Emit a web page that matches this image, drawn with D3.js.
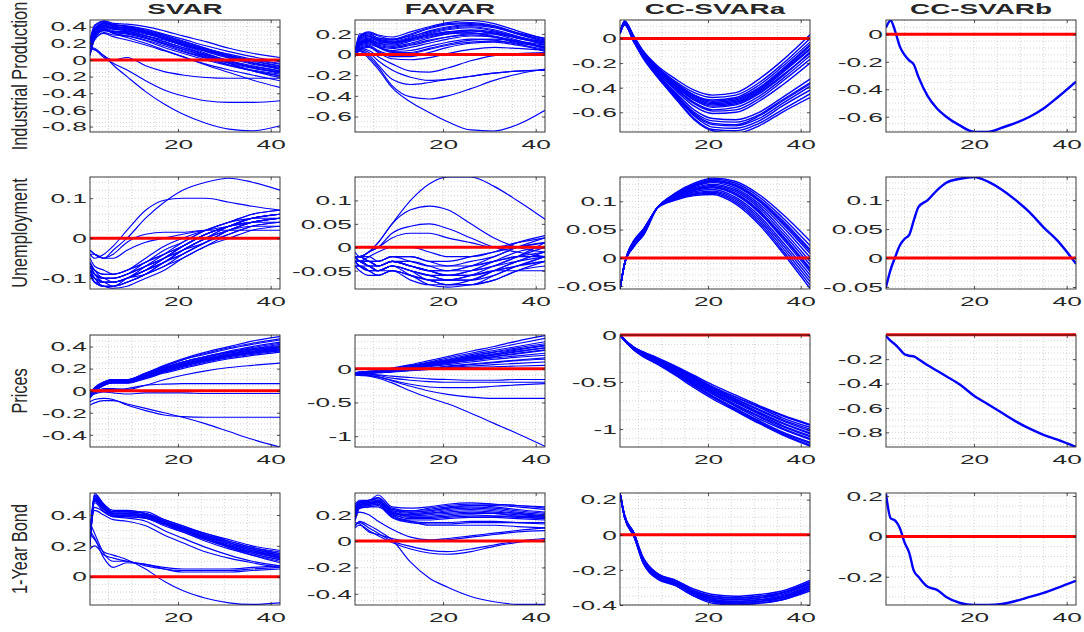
<!DOCTYPE html>
<html>
<head>
<meta charset="utf-8">
<script src="https://cdn.jsdelivr.net/npm/d3@7"></script>
<style>
  body { margin: 0; background: #fff; }
  svg text { font-family: "Liberation Sans", Arial, Helvetica, sans-serif; fill: #262626; }
</style>
</head>
<body>
<svg id="chart" width="1084" height="632"></svg>
<script>
// ---- labels ----
const models = ["SVAR", "FAVAR", "CC-SVARa", "CC-SVARb"];
const variables = ["Industrial Production", "Unemployment", "Prices", "1-Year Bond"];

// ---- horizons at which responses are recorded ----
const horizons = [1, 2, 4, 6, 9, 13, 17, 21, 26, 31, 36, 42];
const horizonsFine = [1, 2, 3, 4, 5, 6, 7, 8, 10, 12, 14, 17, 20, 23, 26, 29, 32, 35, 38, 42];
const xTicks = [20, 40];

// ---- y ranges, tick labels and minor grid steps (row = variable, col = model) ----
const yDomains = [
  [[-0.865, 0.48], [-0.75, 0.335], [-0.76, 0.15], [-0.711, 0.104]],
  [[-0.127, 0.153], [-0.089, 0.15], [-0.055, 0.143], [-0.0535, 0.14]],
  [[-0.51, 0.505], [-1.16, 0.5], [-1.19, 0], [-0.92, -0.002]],
  [[-0.184, 0.543], [-0.485, 0.365], [-0.4, 0.238], [-0.34, 0.215]]
];
const yTicks = [
  [[-0.8, -0.6, -0.4, -0.2, 0, 0.2, 0.4], [-0.6, -0.4, -0.2, 0, 0.2], [-0.6, -0.4, -0.2, 0], [-0.6, -0.4, -0.2, 0]],
  [[-0.1, 0, 0.1], [-0.05, 0, 0.05, 0.1], [-0.05, 0, 0.05, 0.1], [-0.05, 0, 0.05, 0.1]],
  [[-0.4, -0.2, 0, 0.2, 0.4], [-1, -0.5, 0], [-1, -0.5, 0], [-0.8, -0.6, -0.4, -0.2]],
  [[0, 0.2, 0.4], [-0.4, -0.2, 0, 0.2], [-0.4, -0.2, 0, 0.2], [-0.2, 0, 0.2]]
];
const yMinorSteps = [
  [0.05, 0.05, 0.05, 0.05],
  [0.02, 0.01, 0.01, 0.01],
  [0.05, 0.1, 0.1, 0.05],
  [0.05, 0.05, 0.05, 0.05]
];

// ================= Industrial Production =================
const ipSVAR = [
  [0.10,0.30,0.40,0.37,0.36,0.32,0.25,0.18,0.10,0.02,-0.05,-0.11],
  [0.15,0.34,0.43,0.40,0.39,0.35,0.29,0.22,0.14,0.06,-0.01,-0.08],
  [0.05,0.26,0.36,0.33,0.32,0.27,0.20,0.13,0.05,-0.03,-0.09,-0.15],
  [0.20,0.38,0.45,0.42,0.41,0.37,0.31,0.25,0.17,0.10,0.04,-0.02],
  [0.08,0.28,0.38,0.34,0.34,0.29,0.22,0.15,0.07,-0.01,-0.07,-0.13],
  [0.12,0.31,0.41,0.38,0.37,0.33,0.26,0.19,0.11,0.03,-0.04,-0.10],
  [0.18,0.36,0.44,0.40,0.38,0.34,0.28,0.21,0.12,0.04,-0.03,-0.09],
  [0.06,0.24,0.33,0.30,0.29,0.24,0.17,0.10,0.02,-0.06,-0.12,-0.17],
  [0.14,0.32,0.39,0.35,0.33,0.27,0.20,0.13,0.04,-0.04,-0.10,-0.14],
  [0.10,0.33,0.44,0.42,0.40,0.36,0.30,0.23,0.14,0.05,-0.03,-0.11],
  [0.22,0.40,0.47,0.44,0.43,0.40,0.35,0.29,0.22,0.14,0.08,0.03],
  [0.09,0.27,0.36,0.33,0.31,0.26,0.19,0.11,0.03,-0.06,-0.13,-0.19],
  [0.16,0.35,0.41,0.37,0.35,0.29,0.22,0.15,0.06,-0.02,-0.08,-0.13],
  [0.12,0.28,0.35,0.34,0.33,0.29,0.24,0.18,0.11,0.05,0.00,-0.05],
  [0.07,0.29,0.40,0.39,0.38,0.33,0.26,0.18,0.08,-0.01,-0.09,-0.16],
  [0.19,0.36,0.42,0.38,0.36,0.31,0.26,0.20,0.13,0.07,0.01,-0.04],
  [0.11,0.28,0.36,0.32,0.29,0.23,0.15,0.08,0.00,-0.07,-0.13,-0.19],
  [0.13,0.33,0.45,0.43,0.40,0.34,0.26,0.17,0.06,-0.04,-0.13,-0.21],
  [0.15,0.30,0.37,0.32,0.27,0.20,0.12,0.04,-0.06,-0.15,-0.24,-0.33],
  [0.10,0.25,0.32,0.28,0.24,0.18,0.11,0.04,-0.05,-0.12,-0.18,-0.25],
  [0.24,0.42,0.46,0.41,0.38,0.33,0.27,0.20,0.12,0.05,-0.01,-0.07],
  [0.15,0.14,0.05,0.00,0.03,-0.07,-0.14,-0.18,-0.21,-0.22,-0.22,-0.22],
  [0.13,0.12,0.03,-0.04,-0.12,-0.25,-0.36,-0.43,-0.49,-0.51,-0.51,-0.49],
  [0.15,0.13,0.05,-0.06,-0.20,-0.38,-0.53,-0.65,-0.76,-0.83,-0.85,-0.79]
];
const ipFAVAR = [
  [0.00,0.12,0.15,0.12,0.11,0.15,0.20,0.24,0.26,0.23,0.17,0.09],
  [0.02,0.16,0.20,0.16,0.14,0.19,0.25,0.29,0.30,0.27,0.20,0.12],
  [-0.02,0.08,0.10,0.07,0.04,0.07,0.11,0.15,0.18,0.17,0.13,0.07],
  [0.00,0.10,0.13,0.10,0.08,0.11,0.16,0.20,0.23,0.21,0.16,0.10],
  [0.03,0.18,0.22,0.19,0.17,0.22,0.27,0.31,0.33,0.30,0.23,0.15],
  [0.01,0.12,0.14,0.08,0.03,0.04,0.08,0.12,0.15,0.14,0.10,0.05],
  [-0.01,0.06,0.08,0.03,-0.02,-0.02,0.02,0.07,0.11,0.12,0.09,0.04],
  [0.02,0.14,0.17,0.14,0.12,0.16,0.21,0.25,0.27,0.24,0.18,0.11],
  [0.00,0.09,0.12,0.09,0.07,0.10,0.14,0.17,0.19,0.17,0.12,0.06],
  [0.01,0.15,0.19,0.16,0.15,0.20,0.26,0.30,0.31,0.28,0.21,0.14],
  [-0.01,0.07,0.09,0.04,0.00,0.01,0.05,0.09,0.12,0.13,0.11,0.08],
  [0.02,0.11,0.14,0.11,0.09,0.13,0.17,0.20,0.21,0.18,0.13,0.07],
  [0.00,0.09,0.11,0.08,0.06,0.09,0.13,0.17,0.20,0.20,0.16,0.11],
  [0.03,0.17,0.21,0.18,0.15,0.18,0.22,0.26,0.28,0.26,0.20,0.13],
  [0.01,0.11,0.13,0.07,0.02,0.02,0.06,0.10,0.14,0.15,0.13,0.09],
  [0.00,0.13,0.16,0.13,0.11,0.15,0.19,0.22,0.23,0.20,0.14,0.06],
  [-0.02,0.05,0.07,0.02,-0.04,-0.05,-0.03,0.01,0.05,0.07,0.06,0.04],
  [0.02,0.15,0.18,0.15,0.13,0.17,0.23,0.27,0.29,0.27,0.21,0.16],
  [0.01,0.11,0.13,0.11,0.10,0.14,0.18,0.21,0.21,0.17,0.11,0.03],
  [0.02,0.20,0.18,0.14,0.12,0.15,0.19,0.22,0.24,0.22,0.17,0.12],
  [0.00,0.06,0.04,-0.02,-0.09,-0.16,-0.17,-0.13,-0.06,-0.01,0.01,0.02],
  [0.00,0.05,0.02,-0.06,-0.15,-0.22,-0.25,-0.24,-0.21,-0.18,-0.16,-0.15],
  [0.00,0.04,0.00,-0.10,-0.24,-0.29,-0.27,-0.24,-0.21,-0.18,-0.16,-0.15],
  [0.00,0.04,-0.02,-0.12,-0.30,-0.41,-0.43,-0.40,-0.33,-0.25,-0.19,-0.14],
  [0.00,0.03,-0.04,-0.14,-0.32,-0.46,-0.56,-0.65,-0.73,-0.74,-0.68,-0.54]
];
const ipCCa = [
  [0.05,0.14,0.02,-0.10,-0.22,-0.33,-0.42,-0.46,-0.44,-0.33,-0.18,0.03],
  [0.05,0.13,0.01,-0.11,-0.23,-0.35,-0.44,-0.48,-0.46,-0.36,-0.21,0.00],
  [0.04,0.13,0.00,-0.11,-0.24,-0.36,-0.46,-0.50,-0.48,-0.38,-0.23,-0.03],
  [0.05,0.14,0.01,-0.12,-0.25,-0.37,-0.47,-0.52,-0.50,-0.41,-0.26,-0.06],
  [0.04,0.13,0.00,-0.12,-0.25,-0.38,-0.49,-0.54,-0.52,-0.43,-0.28,-0.09],
  [0.05,0.13,0.00,-0.13,-0.26,-0.39,-0.50,-0.56,-0.54,-0.45,-0.31,-0.11],
  [0.04,0.12,-0.01,-0.13,-0.26,-0.40,-0.52,-0.58,-0.56,-0.47,-0.33,-0.14],
  [0.05,0.13,0.00,-0.13,-0.27,-0.41,-0.53,-0.59,-0.58,-0.49,-0.35,-0.17],
  [0.04,0.12,-0.01,-0.14,-0.27,-0.42,-0.55,-0.61,-0.60,-0.51,-0.38,-0.20],
  [0.05,0.14,0.01,-0.11,-0.24,-0.36,-0.46,-0.51,-0.49,-0.40,-0.25,-0.05],
  [0.04,0.12,0.00,-0.12,-0.24,-0.37,-0.48,-0.53,-0.51,-0.42,-0.27,-0.08],
  [0.05,0.13,0.00,-0.12,-0.25,-0.38,-0.50,-0.55,-0.53,-0.44,-0.30,-0.12],
  [0.04,0.12,-0.01,-0.14,-0.28,-0.44,-0.58,-0.65,-0.66,-0.60,-0.48,-0.33],
  [0.04,0.12,-0.01,-0.14,-0.29,-0.45,-0.60,-0.67,-0.68,-0.62,-0.50,-0.36],
  [0.05,0.12,-0.02,-0.15,-0.29,-0.46,-0.62,-0.70,-0.71,-0.65,-0.53,-0.39],
  [0.04,0.11,-0.02,-0.15,-0.30,-0.47,-0.63,-0.72,-0.73,-0.67,-0.55,-0.42],
  [0.04,0.11,-0.03,-0.16,-0.31,-0.48,-0.65,-0.74,-0.75,-0.69,-0.58,-0.45],
  [0.05,0.11,-0.03,-0.16,-0.31,-0.49,-0.66,-0.75,-0.77,-0.71,-0.60,-0.48],
  [0.04,0.12,-0.02,-0.15,-0.29,-0.46,-0.61,-0.69,-0.70,-0.63,-0.51,-0.37]
];
const ipCCb = [
  [0.05,0.10,0.02,-0.09,-0.15,-0.19,-0.22,-0.31,-0.45,-0.54,-0.60,-0.665,-0.71,-0.71,-0.68,-0.645,-0.60,-0.54,-0.46,-0.345]
];

// ================= Unemployment =================
const unSVAR = [
  [-0.07,-0.09,-0.10,-0.10,-0.09,-0.07,-0.05,-0.03,-0.01,0.02,0.04,0.05],
  [-0.08,-0.10,-0.11,-0.11,-0.10,-0.08,-0.05,-0.02,0.01,0.03,0.05,0.06],
  [-0.06,-0.08,-0.09,-0.09,-0.08,-0.06,-0.03,-0.01,0.02,0.04,0.05,0.06],
  [-0.09,-0.11,-0.12,-0.12,-0.11,-0.09,-0.07,-0.04,-0.01,0.02,0.04,0.05],
  [-0.07,-0.09,-0.11,-0.11,-0.10,-0.08,-0.06,-0.04,-0.01,0.01,0.03,0.04],
  [-0.08,-0.10,-0.12,-0.12,-0.11,-0.09,-0.06,-0.03,0.00,0.03,0.05,0.06],
  [-0.06,-0.08,-0.10,-0.10,-0.09,-0.07,-0.05,-0.02,0.01,0.03,0.04,0.05],
  [-0.09,-0.11,-0.12,-0.125,-0.12,-0.10,-0.08,-0.05,-0.02,0.01,0.03,0.04],
  [-0.07,-0.08,-0.09,-0.09,-0.08,-0.05,-0.02,0.00,0.02,0.04,0.06,0.07],
  [-0.08,-0.09,-0.11,-0.11,-0.10,-0.07,-0.04,-0.01,0.02,0.04,0.06,0.07],
  [-0.07,-0.09,-0.10,-0.11,-0.10,-0.08,-0.06,-0.03,0.00,0.02,0.03,0.03],
  [-0.08,-0.10,-0.11,-0.12,-0.11,-0.09,-0.06,-0.04,-0.01,0.02,0.04,0.05],
  [-0.06,-0.09,-0.10,-0.10,-0.09,-0.06,-0.04,-0.02,0.01,0.03,0.05,0.06],
  [-0.09,-0.10,-0.11,-0.11,-0.10,-0.08,-0.05,-0.02,0.01,0.03,0.05,0.05],
  [-0.07,-0.09,-0.10,-0.10,-0.09,-0.07,-0.05,-0.03,0.00,0.02,0.04,0.05],
  [-0.08,-0.11,-0.12,-0.12,-0.10,-0.08,-0.06,-0.03,0.00,0.03,0.05,0.06],
  [-0.05,-0.07,-0.08,-0.09,-0.08,-0.06,-0.04,-0.02,0.01,0.03,0.04,0.04],
  [-0.09,-0.11,-0.11,-0.11,-0.10,-0.09,-0.07,-0.05,-0.02,0.00,0.02,0.03],
  [-0.03,-0.04,-0.05,-0.03,0.00,0.05,0.09,0.12,0.14,0.15,0.14,0.12],
  [-0.04,-0.05,-0.04,-0.02,0.02,0.07,0.095,0.10,0.10,0.09,0.08,0.07],
  [-0.04,-0.04,-0.05,-0.04,-0.01,0.01,0.015,0.015,0.02,0.02,0.02,0.02],
  [-0.03,-0.04,-0.05,-0.05,-0.03,-0.01,0.00,0.01,0.02,0.03,0.04,0.05]
];
const unFAVAR = [
  [-0.02,-0.03,-0.03,-0.04,-0.03,-0.04,-0.05,-0.06,-0.05,-0.04,-0.02,0.00],
  [-0.03,-0.03,-0.04,-0.05,-0.04,-0.05,-0.06,-0.07,-0.07,-0.05,-0.03,-0.01],
  [-0.02,-0.02,-0.03,-0.03,-0.02,-0.03,-0.04,-0.04,-0.03,-0.02,0.00,0.01],
  [-0.04,-0.04,-0.05,-0.06,-0.05,-0.06,-0.07,-0.08,-0.08,-0.06,-0.04,-0.02],
  [-0.03,-0.03,-0.04,-0.04,-0.03,-0.04,-0.05,-0.05,-0.04,-0.03,-0.02,-0.01],
  [-0.02,-0.03,-0.04,-0.05,-0.04,-0.05,-0.07,-0.07,-0.06,-0.04,-0.02,0.01],
  [-0.03,-0.04,-0.05,-0.05,-0.04,-0.06,-0.07,-0.08,-0.08,-0.07,-0.05,-0.03],
  [-0.02,-0.02,-0.03,-0.04,-0.03,-0.03,-0.04,-0.05,-0.05,-0.04,-0.03,-0.02],
  [-0.04,-0.05,-0.06,-0.06,-0.05,-0.06,-0.08,-0.085,-0.08,-0.07,-0.05,-0.04],
  [-0.03,-0.03,-0.04,-0.05,-0.04,-0.05,-0.06,-0.06,-0.05,-0.03,-0.01,0.00],
  [-0.02,-0.03,-0.03,-0.04,-0.03,-0.04,-0.05,-0.06,-0.06,-0.05,-0.04,-0.03],
  [-0.03,-0.04,-0.04,-0.05,-0.04,-0.05,-0.06,-0.07,-0.06,-0.05,-0.04,-0.02],
  [-0.02,-0.02,-0.03,-0.03,-0.02,-0.02,-0.03,-0.04,-0.04,-0.03,-0.02,-0.02],
  [-0.04,-0.04,-0.05,-0.06,-0.05,-0.07,-0.08,-0.08,-0.07,-0.05,-0.03,-0.01],
  [-0.03,-0.03,-0.04,-0.04,-0.03,-0.04,-0.05,-0.06,-0.06,-0.05,-0.05,-0.05],
  [-0.02,-0.03,-0.03,-0.04,-0.03,-0.04,-0.05,-0.05,-0.04,-0.02,0.00,0.02],
  [-0.03,-0.04,-0.05,-0.05,-0.05,-0.06,-0.07,-0.07,-0.07,-0.06,-0.04,-0.03],
  [-0.01,-0.02,-0.02,-0.03,-0.02,-0.02,-0.03,-0.03,-0.02,-0.01,0.00,0.01],
  [-0.02,-0.02,-0.01,0.01,0.05,0.10,0.135,0.15,0.15,0.13,0.10,0.06],
  [-0.02,-0.02,-0.01,0.01,0.05,0.08,0.088,0.08,0.05,0.02,0.00,-0.01],
  [-0.02,-0.02,-0.01,0.00,0.03,0.045,0.05,0.04,0.02,0.00,-0.01,-0.02],
  [-0.02,-0.02,-0.01,0.00,0.02,0.03,0.03,0.02,0.01,0.00,0.01,0.02],
  [-0.03,-0.03,-0.02,-0.01,0.00,0.00,-0.01,-0.02,-0.02,-0.01,0.01,0.025]
];
const unCCa = [
  [-0.055,-0.01,0.030,0.050,0.088,0.115,0.132,0.141,0.135,0.112,0.078,0.030],
  [-0.055,-0.01,0.030,0.050,0.088,0.114,0.130,0.139,0.132,0.108,0.072,0.022],
  [-0.055,-0.01,0.025,0.045,0.088,0.113,0.129,0.137,0.129,0.104,0.067,0.015],
  [-0.055,-0.01,0.028,0.048,0.088,0.112,0.127,0.135,0.126,0.100,0.061,0.008],
  [-0.055,-0.01,0.030,0.040,0.088,0.111,0.126,0.133,0.123,0.096,0.056,0.001],
  [-0.055,-0.01,0.022,0.042,0.088,0.110,0.124,0.130,0.120,0.092,0.050,-0.006],
  [-0.055,-0.01,0.025,0.046,0.088,0.109,0.122,0.128,0.117,0.088,0.045,-0.012],
  [-0.055,-0.01,0.030,0.050,0.088,0.108,0.121,0.126,0.114,0.084,0.040,-0.018],
  [-0.055,-0.01,0.020,0.040,0.088,0.107,0.119,0.124,0.111,0.080,0.035,-0.024],
  [-0.055,-0.01,0.024,0.044,0.088,0.106,0.117,0.121,0.107,0.075,0.029,-0.030],
  [-0.055,-0.01,0.028,0.048,0.088,0.105,0.115,0.118,0.104,0.071,0.024,-0.036],
  [-0.055,-0.01,0.020,0.040,0.088,0.104,0.113,0.116,0.101,0.067,0.019,-0.042],
  [-0.055,-0.01,0.026,0.046,0.088,0.103,0.112,0.114,0.098,0.063,0.014,-0.048],
  [-0.055,-0.01,0.022,0.042,0.088,0.102,0.110,0.112,0.095,0.059,0.010,-0.054],
  [-0.055,-0.01,0.030,0.050,0.088,0.112,0.128,0.136,0.128,0.102,0.064,0.012],
  [-0.055,-0.01,0.024,0.044,0.088,0.108,0.120,0.125,0.113,0.082,0.038,-0.020]
];
const unCCb = [
  [-0.05,-0.02,0.002,0.022,0.033,0.040,0.065,0.088,0.100,0.117,0.130,0.137,0.140,0.132,0.118,0.100,0.079,0.053,0.030,-0.010]
];

// ================= Prices =================
const prSVAR = [
  [-0.05,0.00,0.06,0.09,0.08,0.13,0.19,0.24,0.29,0.33,0.36,0.39],
  [-0.04,0.01,0.07,0.10,0.09,0.15,0.21,0.26,0.31,0.35,0.38,0.41],
  [-0.06,-0.01,0.05,0.08,0.08,0.12,0.17,0.22,0.27,0.31,0.34,0.37],
  [-0.03,0.02,0.08,0.10,0.10,0.16,0.22,0.28,0.33,0.38,0.42,0.46],
  [-0.05,0.00,0.06,0.08,0.08,0.13,0.18,0.23,0.28,0.32,0.35,0.38],
  [-0.07,-0.01,0.05,0.07,0.07,0.12,0.18,0.23,0.28,0.32,0.35,0.38],
  [-0.04,0.01,0.07,0.09,0.09,0.14,0.20,0.25,0.30,0.35,0.38,0.42],
  [-0.02,0.03,0.08,0.10,0.10,0.16,0.23,0.29,0.35,0.40,0.45,0.49],
  [-0.06,0.00,0.05,0.07,0.07,0.11,0.16,0.20,0.25,0.29,0.32,0.35],
  [-0.05,0.00,0.06,0.09,0.09,0.14,0.19,0.24,0.29,0.33,0.37,0.40],
  [-0.03,0.02,0.07,0.09,0.09,0.14,0.20,0.26,0.31,0.36,0.40,0.44],
  [-0.06,-0.01,0.05,0.08,0.08,0.12,0.17,0.21,0.26,0.30,0.33,0.36],
  [-0.04,0.01,0.06,0.09,0.09,0.14,0.19,0.24,0.28,0.32,0.35,0.37],
  [-0.05,0.00,0.07,0.10,0.10,0.15,0.21,0.26,0.31,0.35,0.39,0.43],
  [-0.03,0.01,0.06,0.08,0.08,0.13,0.18,0.23,0.27,0.31,0.34,0.36],
  [-0.05,0.00,0.06,0.09,0.09,0.15,0.22,0.28,0.34,0.39,0.43,0.47],
  [-0.04,0.00,0.05,0.07,0.07,0.12,0.17,0.22,0.27,0.31,0.35,0.39],
  [-0.06,-0.01,0.06,0.08,0.08,0.13,0.19,0.24,0.29,0.34,0.37,0.40],
  [-0.05,-0.02,0.02,0.02,0.01,0.05,0.10,0.14,0.18,0.21,0.23,0.25],
  [-0.04,-0.02,0.01,0.01,0.02,0.05,0.06,0.065,0.065,0.065,0.065,0.065],
  [-0.05,-0.03,-0.01,-0.02,-0.03,-0.02,-0.02,-0.02,-0.025,-0.025,-0.025,-0.025],
  [-0.10,-0.08,-0.07,-0.08,-0.13,-0.18,-0.22,-0.235,-0.24,-0.24,-0.24,-0.24],
  [-0.13,-0.11,-0.09,-0.09,-0.12,-0.16,-0.20,-0.24,-0.30,-0.37,-0.44,-0.51]
];
const prFAVAR = [
  [-0.08,-0.07,-0.06,-0.05,-0.03,0.00,0.04,0.08,0.13,0.18,0.22,0.27],
  [-0.07,-0.06,-0.05,-0.04,-0.01,0.03,0.08,0.13,0.19,0.25,0.31,0.37],
  [-0.09,-0.08,-0.07,-0.06,-0.04,-0.02,0.01,0.04,0.07,0.10,0.13,0.16],
  [-0.06,-0.05,-0.04,-0.03,0.00,0.05,0.10,0.16,0.23,0.30,0.37,0.45],
  [-0.08,-0.07,-0.06,-0.05,-0.03,0.01,0.05,0.10,0.15,0.20,0.25,0.31],
  [-0.07,-0.07,-0.06,-0.05,-0.04,-0.02,0.00,0.02,0.04,0.06,0.08,0.10],
  [-0.08,-0.06,-0.05,-0.04,-0.02,0.02,0.06,0.11,0.17,0.22,0.28,0.34],
  [-0.06,-0.05,-0.04,-0.02,0.01,0.06,0.12,0.18,0.26,0.33,0.41,0.49],
  [-0.09,-0.08,-0.07,-0.06,-0.05,-0.03,-0.01,0.01,0.02,0.03,0.04,0.05],
  [-0.07,-0.06,-0.05,-0.04,-0.02,0.01,0.05,0.09,0.14,0.18,0.23,0.28],
  [-0.08,-0.07,-0.06,-0.04,-0.02,0.02,0.07,0.12,0.18,0.24,0.29,0.35],
  [-0.07,-0.06,-0.05,-0.04,-0.03,0.00,0.03,0.06,0.10,0.14,0.17,0.20],
  [-0.08,-0.07,-0.06,-0.05,-0.02,0.02,0.06,0.10,0.16,0.21,0.26,0.31],
  [-0.06,-0.05,-0.04,-0.03,0.00,0.04,0.09,0.14,0.21,0.27,0.33,0.40],
  [-0.09,-0.08,-0.07,-0.05,-0.04,-0.02,0.00,0.03,0.06,0.09,0.12,0.14],
  [-0.07,-0.06,-0.05,-0.04,-0.02,0.01,0.04,0.08,0.12,0.16,0.19,0.23],
  [-0.08,-0.08,-0.08,-0.09,-0.11,-0.13,-0.15,-0.16,-0.17,-0.17,-0.16,-0.16],
  [-0.08,-0.08,-0.09,-0.10,-0.14,-0.17,-0.19,-0.20,-0.20,-0.20,-0.20,-0.20],
  [-0.08,-0.09,-0.10,-0.12,-0.17,-0.23,-0.27,-0.28,-0.28,-0.26,-0.24,-0.22],
  [-0.08,-0.09,-0.10,-0.12,-0.18,-0.26,-0.33,-0.38,-0.42,-0.44,-0.44,-0.44],
  [-0.09,-0.10,-0.11,-0.14,-0.21,-0.33,-0.43,-0.52,-0.66,-0.81,-0.96,-1.15]
];
const prCCa = [
  [0,-0.05,-0.13,-0.18,-0.24,-0.33,-0.43,-0.53,-0.64,-0.75,-0.85,-0.95],
  [0,-0.05,-0.13,-0.19,-0.25,-0.34,-0.44,-0.55,-0.66,-0.77,-0.88,-0.98],
  [0,-0.05,-0.14,-0.20,-0.26,-0.36,-0.46,-0.57,-0.69,-0.80,-0.91,-1.02],
  [0,-0.05,-0.14,-0.20,-0.27,-0.37,-0.48,-0.59,-0.71,-0.83,-0.94,-1.05],
  [0,-0.06,-0.15,-0.21,-0.28,-0.39,-0.50,-0.61,-0.74,-0.86,-0.97,-1.08],
  [0,-0.06,-0.15,-0.22,-0.29,-0.40,-0.52,-0.63,-0.76,-0.89,-1.00,-1.11],
  [0,-0.06,-0.16,-0.23,-0.30,-0.42,-0.54,-0.66,-0.79,-0.92,-1.04,-1.15],
  [0,-0.06,-0.16,-0.23,-0.31,-0.43,-0.56,-0.68,-0.81,-0.94,-1.06,-1.18],
  [0,-0.05,-0.13,-0.18,-0.25,-0.35,-0.45,-0.56,-0.68,-0.79,-0.90,-1.00],
  [0,-0.06,-0.15,-0.21,-0.29,-0.40,-0.51,-0.62,-0.75,-0.87,-0.99,-1.10],
  [0,-0.06,-0.16,-0.22,-0.30,-0.41,-0.53,-0.65,-0.78,-0.91,-1.03,-1.14],
  [0,-0.05,-0.14,-0.19,-0.26,-0.36,-0.47,-0.58,-0.70,-0.82,-0.93,-1.04],
  [0,-0.06,-0.15,-0.22,-0.30,-0.41,-0.54,-0.66,-0.80,-0.93,-1.05,-1.17],
  [0,-0.05,-0.13,-0.19,-0.26,-0.35,-0.45,-0.55,-0.66,-0.76,-0.86,-0.96],
  [0,-0.06,-0.15,-0.21,-0.28,-0.38,-0.49,-0.60,-0.72,-0.84,-0.96,-1.07]
];
const prCCb = [
  [-0.01,-0.05,-0.08,-0.12,-0.16,-0.172,-0.178,-0.20,-0.25,-0.295,-0.34,-0.41,-0.50,-0.57,-0.64,-0.71,-0.77,-0.82,-0.86,-0.92]
];

// ================= 1-Year Bond =================
const bdSVAR = [
  [0.25,0.52,0.45,0.41,0.41,0.40,0.35,0.31,0.26,0.21,0.17,0.13],
  [0.22,0.50,0.44,0.40,0.40,0.39,0.34,0.30,0.25,0.20,0.16,0.12],
  [0.28,0.54,0.47,0.42,0.42,0.41,0.37,0.33,0.28,0.23,0.19,0.15],
  [0.20,0.48,0.42,0.39,0.39,0.38,0.33,0.29,0.23,0.18,0.14,0.10],
  [0.26,0.53,0.46,0.42,0.42,0.41,0.36,0.32,0.27,0.22,0.18,0.14],
  [0.23,0.51,0.45,0.41,0.41,0.40,0.35,0.30,0.25,0.20,0.15,0.11],
  [0.27,0.50,0.44,0.40,0.40,0.40,0.36,0.32,0.28,0.24,0.20,0.17],
  [0.21,0.49,0.43,0.39,0.40,0.38,0.34,0.30,0.24,0.19,0.14,0.09],
  [0.24,0.52,0.46,0.42,0.42,0.42,0.37,0.33,0.27,0.22,0.17,0.13],
  [0.26,0.51,0.45,0.41,0.41,0.39,0.35,0.31,0.26,0.22,0.18,0.15],
  [0.22,0.53,0.47,0.43,0.43,0.41,0.36,0.31,0.25,0.19,0.15,0.11],
  [0.25,0.50,0.44,0.40,0.39,0.38,0.34,0.29,0.24,0.20,0.16,0.12],
  [0.28,0.52,0.46,0.41,0.41,0.40,0.36,0.32,0.27,0.23,0.19,0.16],
  [0.20,0.49,0.44,0.40,0.40,0.39,0.35,0.30,0.25,0.20,0.16,0.12],
  [0.24,0.50,0.45,0.41,0.41,0.40,0.35,0.31,0.26,0.21,0.17,0.14],
  [0.30,0.45,0.42,0.39,0.38,0.36,0.30,0.25,0.19,0.14,0.10,0.07],
  [0.28,0.43,0.40,0.37,0.36,0.33,0.27,0.22,0.16,0.12,0.09,0.06],
  [0.35,0.28,0.15,0.10,0.10,0.07,0.05,0.04,0.04,0.04,0.05,0.06],
  [0.30,0.25,0.12,0.06,0.09,0.08,0.05,0.03,0.03,0.03,0.04,0.05],
  [0.18,0.20,0.14,0.12,0.10,0.08,0.06,0.05,0.05,0.05,0.06,0.07],
  [0.28,0.24,0.16,0.14,0.11,0.05,-0.03,-0.09,-0.14,-0.17,-0.18,-0.17]
];
const bdFAVAR = [
  [0.22,0.28,0.29,0.30,0.22,0.20,0.21,0.22,0.23,0.22,0.21,0.19],
  [0.25,0.30,0.30,0.33,0.24,0.23,0.24,0.26,0.27,0.26,0.24,0.22],
  [0.18,0.26,0.27,0.28,0.20,0.18,0.18,0.19,0.20,0.19,0.18,0.17],
  [0.28,0.31,0.31,0.35,0.26,0.25,0.26,0.28,0.29,0.28,0.27,0.25],
  [0.20,0.27,0.28,0.29,0.21,0.19,0.19,0.20,0.21,0.21,0.20,0.19],
  [0.24,0.29,0.29,0.31,0.23,0.21,0.22,0.24,0.25,0.24,0.22,0.20],
  [0.15,0.25,0.26,0.27,0.19,0.16,0.16,0.17,0.18,0.18,0.17,0.16],
  [0.26,0.30,0.31,0.32,0.25,0.23,0.25,0.27,0.28,0.28,0.27,0.26],
  [0.21,0.28,0.28,0.30,0.22,0.19,0.20,0.21,0.22,0.21,0.19,0.17],
  [0.23,0.29,0.30,0.31,0.23,0.22,0.23,0.25,0.26,0.25,0.23,0.21],
  [0.17,0.26,0.27,0.28,0.18,0.15,0.14,0.14,0.15,0.15,0.14,0.13],
  [0.27,0.30,0.31,0.33,0.24,0.22,0.23,0.25,0.27,0.27,0.26,0.24],
  [0.19,0.27,0.28,0.29,0.21,0.17,0.17,0.18,0.19,0.19,0.19,0.18],
  [0.24,0.28,0.29,0.30,0.22,0.20,0.21,0.23,0.24,0.23,0.21,0.18],
  [0.22,0.27,0.28,0.30,0.20,0.15,0.12,0.12,0.12,0.12,0.11,0.10],
  [0.16,0.25,0.26,0.26,0.18,0.14,0.13,0.13,0.14,0.14,0.14,0.14],
  [0.12,0.14,0.10,0.06,0.00,-0.04,-0.07,-0.08,-0.06,-0.03,0.00,0.02],
  [0.14,0.13,0.08,0.04,-0.01,-0.06,-0.09,-0.10,-0.08,-0.04,-0.01,0.01],
  [0.10,0.12,0.07,0.05,0.02,0.00,0.00,0.01,0.03,0.05,0.07,0.08],
  [0.20,0.22,0.20,0.15,0.09,0.03,0.01,0.02,0.04,0.06,0.08,0.10],
  [0.11,0.15,0.12,0.08,0.01,-0.16,-0.28,-0.35,-0.42,-0.46,-0.48,-0.48]
];
const bdCCa = [
  [0.238,0.10,0.01,-0.13,-0.22,-0.26,-0.31,-0.34,-0.35,-0.34,-0.32,-0.26],
  [0.238,0.10,0.00,-0.14,-0.23,-0.27,-0.32,-0.35,-0.36,-0.35,-0.33,-0.27],
  [0.238,0.11,0.01,-0.15,-0.23,-0.27,-0.33,-0.36,-0.37,-0.36,-0.34,-0.28],
  [0.238,0.10,-0.01,-0.15,-0.24,-0.28,-0.34,-0.37,-0.38,-0.37,-0.35,-0.29],
  [0.238,0.10,0.00,-0.16,-0.24,-0.28,-0.34,-0.38,-0.39,-0.38,-0.36,-0.30],
  [0.238,0.11,0.01,-0.14,-0.24,-0.29,-0.35,-0.38,-0.40,-0.39,-0.37,-0.31],
  [0.238,0.10,-0.01,-0.16,-0.25,-0.29,-0.35,-0.39,-0.40,-0.39,-0.37,-0.32],
  [0.238,0.10,0.00,-0.15,-0.23,-0.27,-0.33,-0.37,-0.38,-0.37,-0.35,-0.30],
  [0.238,0.11,0.00,-0.14,-0.22,-0.27,-0.32,-0.36,-0.37,-0.36,-0.33,-0.27],
  [0.238,0.10,0.01,-0.15,-0.24,-0.28,-0.33,-0.37,-0.39,-0.38,-0.35,-0.29],
  [0.238,0.10,-0.01,-0.16,-0.25,-0.28,-0.34,-0.38,-0.39,-0.38,-0.36,-0.31],
  [0.238,0.11,0.00,-0.13,-0.22,-0.26,-0.32,-0.35,-0.36,-0.35,-0.33,-0.28]
];
const bdCCb = [
  [0.21,0.09,0.078,0.04,-0.03,-0.08,-0.17,-0.20,-0.25,-0.265,-0.30,-0.33,-0.34,-0.34,-0.335,-0.32,-0.30,-0.28,-0.255,-0.22]
];

const responses = [
  [ipSVAR, ipFAVAR, ipCCa, ipCCb],
  [unSVAR, unFAVAR, unCCa, unCCb],
  [prSVAR, prFAVAR, prCCa, prCCb],
  [bdSVAR, bdFAVAR, bdCCa, bdCCb]
];

// ---- layout ----
const colX = [90, 355, 620, 886];
const rowY = [20, 177, 335, 493];
const pw = 190, ph = 112;
const stretch = 1.95;       // wide tick-label look
const titleStretch = 1.86;
const labelStretch = 1.4;
const axisColor = "#262626";
const blue = "#0000ff";
const fmt = d => String(Math.round(d * 1000) / 1000);

const svg = d3.select("#chart");
const defs = svg.append("defs");
const x = d3.scaleLinear().domain([1, 42]).range([0, pw]);
const xMinor = d3.range(5, 42, 5);

variables.forEach((vname, i) => {
  models.forEach((mname, j) => {
    const g = svg.append("g").attr("transform", `translate(${colX[j]},${rowY[i]})`);
    const y = d3.scaleLinear().domain(yDomains[i][j]).range([ph, 0]);
    const [lo, hi] = yDomains[i][j];
    const step = yMinorSteps[i][j];
    const yMinor = d3.range(Math.ceil(lo / step - 1e-9), Math.floor(hi / step + 1e-9) + 1).map(k => k * step);

    // dotted grid
    const grid = g.append("g").attr("stroke", "#b8b8b8").attr("stroke-width", 0.6).attr("stroke-dasharray", "1,2");
    grid.selectAll("line.gx").data(xMinor).join("line").attr("class", "gx")
      .attr("x1", d => x(d)).attr("x2", d => x(d)).attr("y1", 0).attr("y2", ph);
    grid.selectAll("line.gy").data(yMinor).join("line").attr("class", "gy")
      .attr("x1", 0).attr("x2", pw).attr("y1", d => y(d)).attr("y2", d => y(d));

    // response lines, clipped to the plot box
    const clipId = `clip-${i}-${j}`;
    defs.append("clipPath").attr("id", clipId).append("rect").attr("width", pw).attr("height", ph);
    const hs = (j === 3) ? horizonsFine : horizons;
    const line = d3.line().x((d, k) => x(hs[k])).y(d => y(d)).curve(d3.curveMonotoneX);
    const width = j === 3 ? 2.4 : (j === 2 ? 1.4 : 1.15);
    g.append("g").attr("clip-path", `url(#${clipId})`)
      .selectAll("path").data(responses[i][j]).join("path")
      .attr("d", line).attr("fill", "none").attr("stroke", blue)
      .attr("stroke-width", width).attr("stroke-linejoin", "round");

    // zero line
    g.append("line").attr("x1", x(1)).attr("x2", x(42)).attr("y1", y(0)).attr("y2", y(0))
      .attr("stroke", "#ff0000").attr("stroke-width", 3);

    // axes with inward ticks
    const left = g.append("g").style("color", axisColor)
      .call(d3.axisLeft(y).tickValues(yTicks[i][j]).tickSizeInner(-3).tickSizeOuter(0).tickPadding(3).tickFormat(fmt));
    const bottom = g.append("g").attr("transform", `translate(0,${ph})`).style("color", axisColor)
      .call(d3.axisBottom(x).tickValues(xTicks).tickSizeInner(-3).tickSizeOuter(0).tickPadding(7));
    const right = g.append("g").attr("transform", `translate(${pw},0)`).style("color", axisColor)
      .call(d3.axisRight(y).tickValues(yTicks[i][j]).tickSizeInner(-3).tickSizeOuter(0).tickFormat(""));
    const top = g.append("g").style("color", axisColor)
      .call(d3.axisTop(x).tickValues(xTicks).tickSizeInner(-3).tickSizeOuter(0).tickFormat(""));
    [left, bottom, right, top].forEach(a => {
      a.select(".domain").remove();
      a.attr("font-size", 13.5).attr("font-family", null);
      a.selectAll("line").attr("stroke-width", 0.8);
    });
    left.selectAll("text").attr("x", -3 / stretch).attr("transform", `scale(${stretch},1)`);
    bottom.selectAll("text").attr("transform", `scale(${stretch},1)`);

    // frame
    g.append("rect").attr("width", pw).attr("height", ph)
      .attr("fill", "none").attr("stroke", axisColor).attr("stroke-width", 0.9);

    if (i === 0) {
      g.append("text").attr("text-anchor", "middle").attr("font-weight", "bold").attr("font-size", 15)
        .attr("transform", `translate(${pw / 2},-6) scale(${titleStretch},1)`).text(mname);
    }
    if (j === 0) {
      g.append("text").attr("text-anchor", "middle").attr("font-size", 16.3)
        .attr("transform", `translate(-63,${ph / 2}) scale(${labelStretch},1) rotate(-90)`).text(vname);
    }
  });
});
</script>
</body>
</html>
